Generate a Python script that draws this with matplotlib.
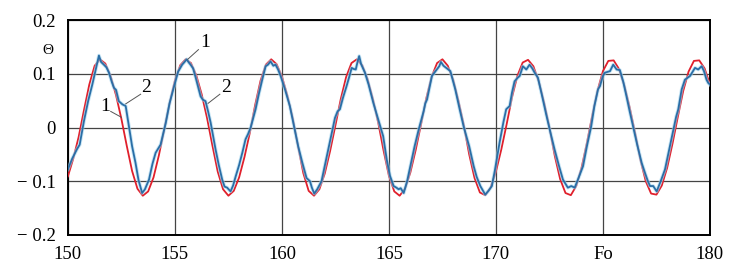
import matplotlib.pyplot as plt
import numpy as np

# curve 1 (red), read every 0.25 Fo from 150 to 180
red_fo = np.arange(150, 180.001, 0.25)
red_theta = [
    -0.091, -0.058, -0.018, 0.032, 0.080, 0.115, 0.127, 0.119, 0.095, 0.060,
    0.016, -0.034, -0.081, -0.114, -0.127, -0.119, -0.093, -0.052, -0.004, 0.045,
    0.087, 0.116, 0.127, 0.120, 0.097, 0.062, 0.018, -0.033, -0.082, -0.115,
    -0.127, -0.118, -0.093, -0.055, -0.010, 0.042, 0.087, 0.117, 0.127, 0.118,
    0.095, 0.060, 0.018, -0.034, -0.085, -0.118, -0.127, -0.115, -0.086, -0.044,
    0.004, 0.053, 0.094, 0.120, 0.127, 0.116, 0.090, 0.053, 0.009, -0.043,
    -0.090, -0.119, -0.127, -0.114, -0.084, -0.042, 0.006, 0.055, 0.095, 0.120,
    0.127, 0.115, 0.089, 0.049, 0.004, -0.050, -0.094, -0.121, -0.126, -0.112,
    -0.082, -0.041, 0.006, 0.056, 0.096, 0.121, 0.126, 0.114, 0.086, 0.046,
    0.000, -0.053, -0.096, -0.122, -0.126, -0.109, -0.075, -0.029, 0.022, 0.069,
    0.105, 0.124, 0.125, 0.109, 0.078, 0.037, -0.010, -0.060, -0.100, -0.123,
    -0.125, -0.108, -0.075, -0.030, 0.020, 0.068, 0.104, 0.124, 0.125, 0.110,
    0.080,
]

# curve 2 (blue)
blue_fo = [
    150.0, 150.2, 150.43, 150.55, 150.75, 150.95, 151.14, 151.3, 151.45, 151.55,
    151.68, 151.8, 151.92, 152.05, 152.15, 152.25, 152.38, 152.55, 152.7, 152.85,
    153.0, 153.16, 153.3, 153.47, 153.6, 153.79, 153.95, 154.1, 154.33, 154.57,
    154.75, 154.95, 155.15, 155.34, 155.45, 155.55, 155.65, 155.73, 155.85, 155.97,
    156.2, 156.3, 156.43, 156.55, 156.67, 156.9, 157.05, 157.21, 157.32, 157.44,
    157.6, 157.72, 157.84, 158.0, 158.15, 158.3, 158.42, 158.54, 158.77, 158.92,
    159.08, 159.24, 159.35, 159.47, 159.6, 159.7, 159.82, 159.94, 160.15, 160.37,
    160.55, 160.76, 160.95, 161.15, 161.31, 161.4, 161.51, 161.65, 161.85, 162.0,
    162.17, 162.33, 162.48, 162.6, 162.71, 162.85, 163.02, 163.15, 163.26, 163.35,
    163.45, 163.55, 163.61, 163.7, 163.88, 164.05, 164.27, 164.5, 164.73, 164.9,
    165.05, 165.22, 165.35, 165.45, 165.55, 165.69, 165.85, 166.0, 166.2, 166.39,
    166.62, 166.7, 166.78, 166.9, 167.01, 167.24, 167.35, 167.43, 167.55, 167.68,
    167.87, 168.1, 168.3, 168.49, 168.75, 168.96, 169.1, 169.27, 169.5, 169.65,
    169.81, 169.95, 170.17, 170.35, 170.48, 170.64, 170.75, 170.87, 171.0, 171.11,
    171.26, 171.42, 171.57, 171.7, 171.81, 171.96, 172.15, 172.35, 172.55, 172.74,
    172.95, 173.13, 173.25, 173.36, 173.52, 173.68, 173.85, 174.07, 174.25, 174.45,
    174.6, 174.77, 174.86, 175.0, 175.09, 175.33, 175.48, 175.64, 175.79, 175.95,
    176.1, 176.25, 176.41, 176.6, 176.81, 176.96, 177.1, 177.2, 177.35, 177.51,
    177.7, 177.9, 178.1, 178.29, 178.42, 178.52, 178.68, 178.83, 179.07, 179.3,
    179.45, 179.61, 179.72, 179.84, 179.92, 180.0,
]
blue_theta = [
    -0.078, -0.058, -0.040, -0.032, 0.012, 0.050, 0.080, 0.108, 0.134, 0.122,
    0.117, 0.112, 0.102, 0.085, 0.074, 0.070, 0.049, 0.043, 0.040, 0.002,
    -0.035, -0.066, -0.098, -0.122, -0.115, -0.097, -0.068, -0.047, -0.032, 0.008,
    0.045, 0.075, 0.104, 0.117, 0.122, 0.127, 0.121, 0.117, 0.110, 0.093,
    0.058, 0.052, 0.049, 0.030, 0.009, -0.041, -0.070, -0.097, -0.110, -0.112,
    -0.119, -0.108, -0.091, -0.070, -0.047, -0.022, -0.012, 0.000, 0.034, 0.062,
    0.089, 0.114, 0.117, 0.123, 0.115, 0.117, 0.108, 0.096, 0.070, 0.040,
    0.005, -0.035, -0.065, -0.094, -0.100, -0.112, -0.123, -0.115, -0.100, -0.072,
    -0.041, -0.010, 0.018, 0.030, 0.034, 0.055, 0.077, 0.095, 0.111, 0.109,
    0.108, 0.125, 0.133, 0.118, 0.102, 0.080, 0.046, 0.015, -0.016, -0.060,
    -0.090, -0.109, -0.112, -0.115, -0.113, -0.122, -0.100, -0.072, -0.035, -0.004,
    0.030, 0.045, 0.052, 0.075, 0.096, 0.108, 0.114, 0.122, 0.115, 0.111,
    0.105, 0.071, 0.035, 0.002, -0.035, -0.072, -0.092, -0.109, -0.125, -0.118,
    -0.109, -0.080, -0.028, 0.010, 0.034, 0.040, 0.065, 0.086, 0.092, 0.096,
    0.114, 0.108, 0.117, 0.110, 0.102, 0.093, 0.060, 0.024, -0.010, -0.041,
    -0.072, -0.097, -0.105, -0.112, -0.109, -0.112, -0.095, -0.072, -0.035, 0.002,
    0.040, 0.071, 0.077, 0.096, 0.102, 0.105, 0.117, 0.108, 0.107, 0.085,
    0.058, 0.030, 0.002, -0.032, -0.066, -0.084, -0.100, -0.109, -0.109, -0.119,
    -0.100, -0.078, -0.040, -0.004, 0.020, 0.034, 0.071, 0.089, 0.096, 0.111,
    0.108, 0.114, 0.105, 0.089, 0.083, 0.080,
]

x_ticks = [150, 155, 160, 165, 170, 175, 180]
x_labels = ['150', '155', '160', '165', '170', 'Fo', '180']
y_ticks = [-0.2, -0.1, 0, 0.1, 0.2]
y_labels = ['\u2212 0.2', '\u2212 0.1', '0', '0.1', '0.2']

plt.rcParams['font.family'] = ['Liberation Serif', 'DejaVu Serif']

fig = plt.figure(figsize=(7.38, 2.79), dpi=100)
ax = fig.add_axes([0.092, 0.158, 0.870, 0.770])

ax.plot(red_fo, red_theta, color='#e0202c', linewidth=1.3, zorder=3)
ax.plot(blue_fo, blue_theta, color='#9fd3ee', linewidth=2.6, alpha=0.6, zorder=4)
ax.plot(blue_fo, blue_theta, color='#2a6ea6', linewidth=1.3, zorder=5)

ax.set_xlim(150, 180)
ax.set_ylim(-0.2, 0.2)
ax.set_xticks(x_ticks)
ax.set_xticklabels(x_labels)
ax.set_yticks(y_ticks)
ax.set_yticklabels(y_labels)
ax.tick_params(length=0, labelsize=13.5)
ax.tick_params(axis='x', pad=8)
ax.tick_params(axis='y', pad=9)
ax.grid(color='#444444', linewidth=0.9)
ax.set_axisbelow(True)
for s in ax.spines.values():
    s.set_linewidth(1.4)

ax.text(-0.031, 0.86, '\u0398', transform=ax.transAxes, fontsize=11, ha='center', va='center')

# curve labels with leader lines
lbl = dict(fontsize=14, ha='center', va='center', zorder=6)
ln = dict(color='#555555', linewidth=0.7, zorder=6)
ax.text(151.75, 0.040, '1', **lbl)
ax.plot([152.0, 152.5], [0.030, 0.019], **ln)
ax.text(153.65, 0.075, '2', **lbl)
ax.plot([153.4, 152.7], [0.062, 0.044], **ln)
ax.text(156.4, 0.158, '1', **lbl)
ax.plot([156.1, 155.6], [0.145, 0.127], **ln)
ax.text(157.4, 0.075, '2', **lbl)
ax.plot([157.1, 156.55], [0.062, 0.045], **ln)

fig.savefig('out.png', dpi=100)
